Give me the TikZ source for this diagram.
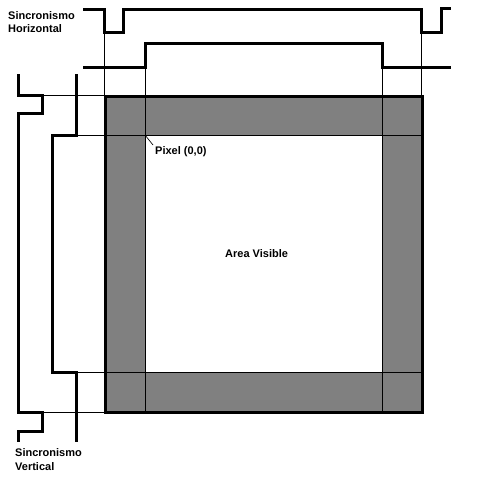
\documentclass[tikz,border=0pt]{standalone}
\usepackage{fontspec}
\setmainfont{Liberation Sans}
\usetikzlibrary{positioning}
\definecolor{bordergray}{HTML}{808080}

\begin{document}
\begin{tikzpicture}[
 x=1pt,y=-1pt,
 guide/.style={line width=1pt},
 signal/.style={line width=3pt,line join=miter},
 frame/.style={line width=3pt},
 lbl/.style={font=\bfseries\fontsize{11}{13}\selectfont,inner sep=0pt,anchor=base west}
]
\useasboundingbox (0,0) rectangle (477,482);
\fill[bordergray] (105,96) rectangle (422,412);
\fill[white] (145,135) rectangle (382,372);
\coordinate (origin) at (145,135);
% guide lines
\draw[guide] (104,32)--(104,96); \draw[guide] (421,32)--(421,96);
\draw[guide] (145,67)--(145,412); \draw[guide] (382,67)--(382,412);
\draw[guide] (18,95)--(105,95); \draw[guide] (76,135)--(423,135);
\draw[guide] (76,372)--(422,372); \draw[guide] (17,412)--(105,412);
% sync signals
\draw[signal] (83,9) -- (104,9) -- (104,32) -- (123,32) -- (123,9) -- (421,9) -- (421,32) -- (441,32) -- (441,8) -- (451,8);
\draw[signal] (83,67) -- (145,67) -- (145,43) -- (382,43) -- (382,67) -- (451,67);
\draw[signal] (18,74) -- (18,95) -- (42,95) -- (42,113) -- (18,113) -- (18,412) -- (42,412) -- (42,431) -- (18,431) -- (18,442);
\draw[signal] (76,74) -- (76,135) -- (52,135) -- (52,372) -- (76,372) -- (76,442);
\draw[frame] (105,96) rectangle (422,412);
% labels
\node[lbl] (hsync) at (8,19) {Sincronismo};
\node[lbl,below=13pt of hsync.base west,anchor=base west] (hsync2) {Horizontal};
\node[lbl] (vsync) at (15,456) {Sincronismo};
\node[lbl,below=14pt of vsync.base west,anchor=base west] (vsync2) {Vertical};
\node[lbl] (pixel) at (155,154) {Pixel (0,0)};
\node[lbl] (visible) at (225,257) {Area Visible};
\draw[line width=0.7pt] (origin) -- (153,145);
\end{tikzpicture}
\end{document}
